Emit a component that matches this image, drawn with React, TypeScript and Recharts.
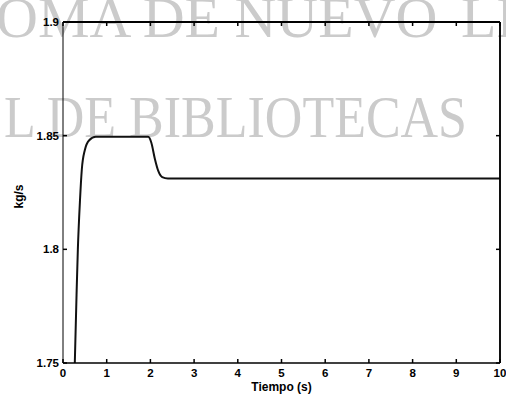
import React from 'react';
import { LineChart, Line, XAxis, YAxis, ReferenceLine } from 'recharts';

const timeS = [0.27, 0.31, 0.34, 0.39, 0.43, 0.5, 0.6, 0.75, 1.95, 2.02, 2.1, 2.18, 2.27, 2.4, 10];
const flowKgS = [1.75, 1.78, 1.8, 1.822, 1.835, 1.8437, 1.848, 1.8495, 1.8495, 1.847, 1.84, 1.8345, 1.8318, 1.8312, 1.8312];
const xTicks = [0, 1, 2, 3, 4, 5, 6, 7, 8, 9, 10];
const yTicks = [1.75, 1.8, 1.85, 1.9];
const xMax = 10;
const yMax = 1.9;
const xLabel = 'Tiempo (s)';
const yLabel = 'kg/s';
const watermark1a = 'OMA DE NUEVO';
const watermark1b = 'LEÓN';
const watermark2 = 'L DE BIBLIOTECAS';

const data = timeS.map((t, i) => ({ t, v: flowKgS[i] }));

const FONT = '"Liberation Sans", Arial, sans-serif';
const TICK = 4;

const bottomTick = (props: any) => {
  const { x, y, payload } = props;
  return (
    <g key={`b-${payload.value}`}>
      <line x1={x} x2={x} y1={y} y2={y - TICK} stroke="#000" strokeWidth={1.5} />
      <text x={x} y={y + 14} textAnchor="middle" style={{ fontFamily: FONT, fontWeight: 700, fontSize: 11.5, fill: '#000' }}>
        {String(payload.value)}
      </text>
    </g>
  );
};

const topTick = (props: any) => {
  const { x, y, payload } = props;
  return <line key={`t-${payload.value}`} x1={x} x2={x} y1={y} y2={y + TICK} stroke="#000" strokeWidth={1.5} />;
};

const leftTick = (props: any) => {
  const { x, y, payload } = props;
  return (
    <g key={`l-${payload.value}`}>
      <line x1={x} x2={x + TICK} y1={y} y2={y} stroke="#000" strokeWidth={1.5} />
      <text x={x - 4} y={y + 4} textAnchor="end" style={{ fontFamily: FONT, fontWeight: 700, fontSize: 11.5, fill: '#000' }}>
        {String(payload.value)}
      </text>
    </g>
  );
};

const rightTick = (props: any) => {
  const { x, y, payload } = props;
  return <line key={`r-${payload.value}`} x1={x} x2={x - TICK} y1={y} y2={y} stroke="#000" strokeWidth={1.5} />;
};

const TopEdge = (props: any) => {
  const vb = props.viewBox || { x: 0, y: 0, width: 0, height: 0 };
  const yy = vb.y + vb.height;
  return <line x1={vb.x} x2={vb.x + vb.width} y1={yy} y2={yy} stroke="#000" strokeWidth={2} />;
};

const RightEdge = (props: any) => {
  const vb = props.viewBox || { x: 0, y: 0, width: 0, height: 0 };
  return <line x1={vb.x} x2={vb.x} y1={vb.y} y2={vb.y + vb.height} stroke="#000" strokeWidth={1.5} />;
};

const YLabelContent = (props: any) => {
  const vb = props.viewBox || { x: 0, y: 0, width: 0, height: 0 };
  const cx = vb.x + 19;
  const cy = vb.y + vb.height / 2 + 4;
  return (
    <text
      x={cx}
      y={cy}
      transform={`rotate(-90 ${cx} ${cy})`}
      textAnchor="middle"
      dominantBaseline="central"
      style={{ fontFamily: FONT, fontWeight: 700, fontSize: 12, fill: '#000' }}
    >
      {yLabel}
    </text>
  );
};

const XLabelContent = (props: any) => {
  const vb = props.viewBox || { x: 0, y: 0, width: 0, height: 0 };
  const cx = vb.x + vb.width / 2;
  const cy = vb.y + 28;
  return (
    <text x={cx} y={cy} textAnchor="middle" style={{ fontFamily: FONT, fontWeight: 700, fontSize: 12, fill: '#000' }}>
      {xLabel}
    </text>
  );
};

export default function App() {
  return (
    <div style={{ position: 'absolute', left: 0, top: 0, width: 506, height: 396, background: '#fff', overflow: 'hidden' }}>
      <svg width={506} height={396} style={{ position: 'absolute', left: 0, top: 0 }}>
        <g fill="#cbcbcb" fontFamily='"Liberation Serif", "Times New Roman", serif'>
          <text x={-4} y={37} fontSize={58}>{watermark1a}</text>
          <text x={461} y={37} fontSize={58}>{watermark1b}</text>
          <g transform="translate(0 137) scale(1 1.13)">
            <text x={4} y={0} fontSize={52}>{watermark2}</text>
          </g>
        </g>
      </svg>
      <div style={{ position: 'absolute', left: 0, top: 0 }}>
        <LineChart width={506} height={396} data={data} margin={{ top: 21, right: 5, bottom: 0, left: 0 }}>
          <XAxis
            xAxisId="b"
            dataKey="t"
            type="number"
            domain={[0, 10]}
            ticks={xTicks}
            interval={0}
            height={33}
            tickSize={0}
            tickMargin={0}
            tickLine={false}
            axisLine={{ stroke: '#000', strokeWidth: 1.5 }}
            tick={bottomTick}
            label={{ content: <XLabelContent /> }}
          />
          <XAxis
            xAxisId="t"
            dataKey="t"
            orientation="top"
            type="number"
            domain={[0, 10]}
            ticks={xTicks}
            interval={0}
            height={1}
            tickSize={0}
            tickMargin={0}
            tickLine={false}
            axisLine={false}
            tick={topTick}
            label={{ content: <TopEdge /> }}
          />
          <YAxis
            yAxisId="l"
            type="number"
            domain={[1.75, 1.9]}
            ticks={yTicks}
            interval={0}
            width={63}
            tickSize={0}
            tickMargin={0}
            tickLine={false}
            axisLine={{ stroke: '#000', strokeWidth: 1 }}
            tick={leftTick}
            label={{ content: <YLabelContent /> }}
          />
          <YAxis
            yAxisId="r"
            orientation="right"
            type="number"
            domain={[1.75, 1.9]}
            ticks={yTicks}
            interval={0}
            width={1}
            tickSize={0}
            tickMargin={0}
            tickLine={false}
            axisLine={false}
            tick={rightTick}
            label={{ content: <RightEdge /> }}
          />
          <ReferenceLine xAxisId="b" yAxisId="l" y={yMax} stroke="#000" strokeWidth={2} ifOverflow="extendDomain" />
          <ReferenceLine xAxisId="b" yAxisId="l" x={xMax} stroke="#000" strokeWidth={1.5} ifOverflow="extendDomain" />
          <Line
            xAxisId="t"
            yAxisId="r"
            dataKey="v"
            type="monotone"
            stroke="none"
            strokeWidth={0}
            dot={false}
            activeDot={false}
            legendType="none"
            isAnimationActive={false}
          />
          <Line
            xAxisId="b"
            yAxisId="l"
            dataKey="v"
            type="monotone"
            stroke="#111"
            strokeWidth={2}
            dot={false}
            activeDot={false}
            isAnimationActive={false}
          />
        </LineChart>
      </div>
    </div>
  );
}
